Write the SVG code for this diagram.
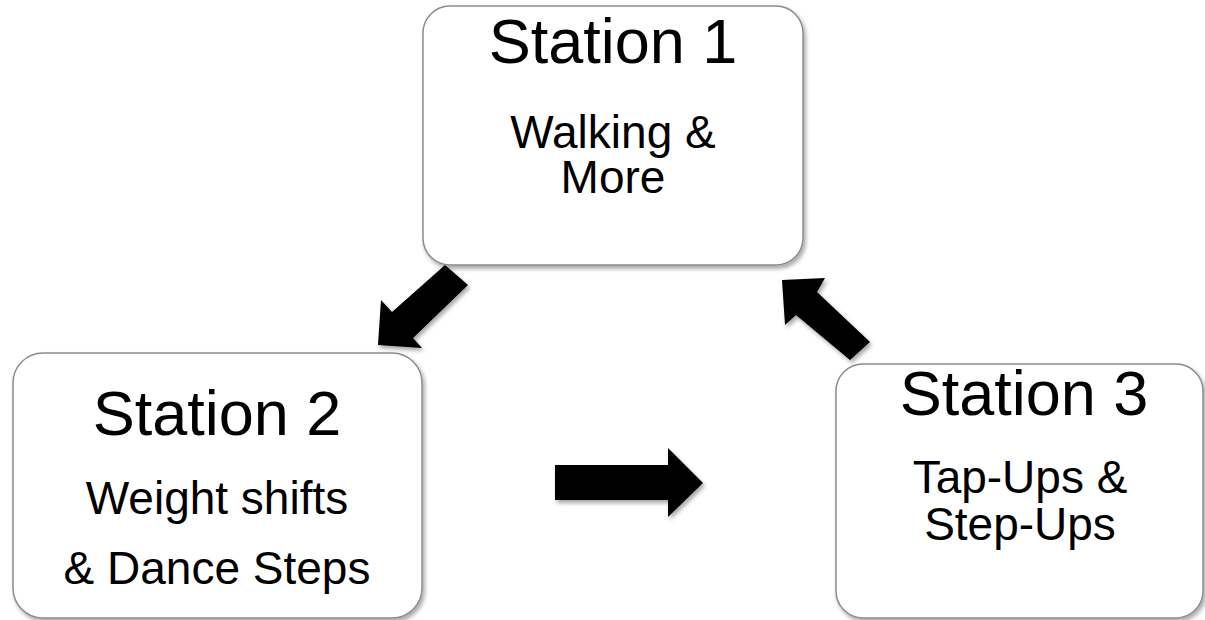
<svg xmlns="http://www.w3.org/2000/svg" width="1205" height="620" viewBox="0 0 1205 620">
<defs>
<filter id="sh" x="-10%" y="-10%" width="120%" height="120%">
<feGaussianBlur in="SourceAlpha" stdDeviation="2"/>
<feOffset dx="2" dy="3" result="b"/>
<feComponentTransfer><feFuncA type="linear" slope="0.35"/></feComponentTransfer>
<feMerge><feMergeNode/><feMergeNode in="SourceGraphic"/></feMerge>
</filter>
</defs>
<style>
.box{fill:#fff;stroke:#8c8c8c;stroke-width:1.5}
.t{font-family:"Liberation Sans",Arial,sans-serif;fill:#000;text-anchor:middle}
.big{font-size:63px}
.sm{font-size:46px}
.arr{fill:#000}
</style>
<rect width="1205" height="620" fill="#fff"/>
<g id="connectors" filter="url(#sh)">
<polygon class="arr" points="445,265 468,285 413,338 422,348 378,345 381,300 392,312"/>
<polygon class="arr" points="555,465 668,465 668,448 703,483 668,517 668,500 555,500"/>
<polygon class="arr" points="870,342 850,360 796,315 785,325 782,280 825,278 817,292"/>
</g>
<g id="station1">
<rect class="box" x="423" y="6" width="380" height="259" rx="27" filter="url(#sh)"/>
<text class="t big" x="613" y="63">Station 1</text>
<text class="t sm" x="613" y="148">Walking &amp;</text>
<text class="t sm" x="613" y="193">More</text>
</g>
<g id="station2">
<rect class="box" x="13" y="353" width="409" height="265" rx="30" filter="url(#sh)"/>
<text class="t big" x="217" y="435">Station 2</text>
<text class="t sm" x="217" y="514">Weight shifts</text>
<text class="t sm" x="217" y="584">&amp; Dance Steps</text>
</g>
<g id="station3">
<rect class="box" x="836" y="364" width="367" height="254" rx="27" filter="url(#sh)"/>
<text class="t big" x="1024" y="415">Station 3</text>
<text class="t sm" x="1020" y="493">Tap-Ups &amp;</text>
<text class="t sm" x="1020" y="540">Step-Ups</text>
</g>
</svg>
